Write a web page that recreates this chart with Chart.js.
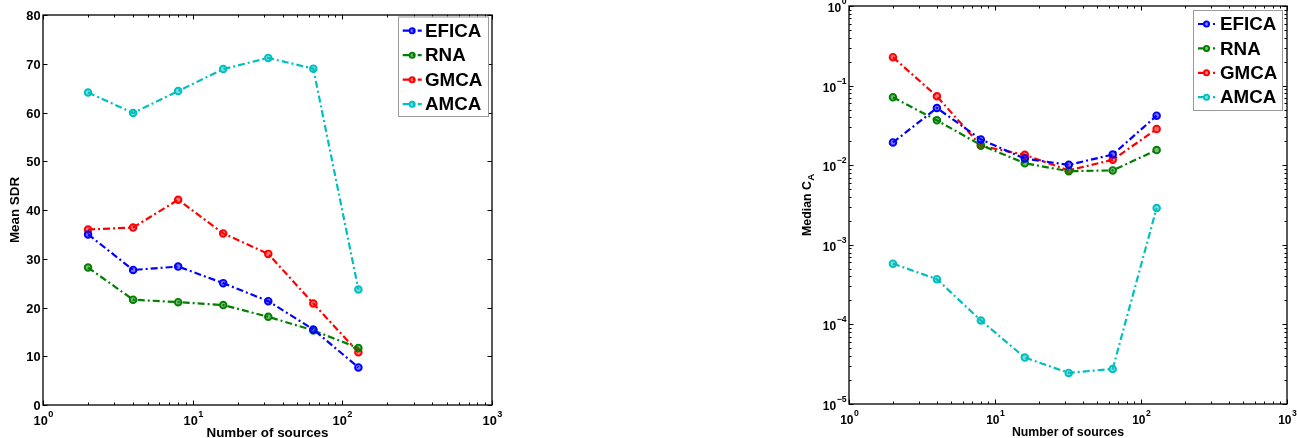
<!DOCTYPE html>
<html>
<head>
<meta charset="utf-8">
<title>Mean SDR / Median C_A vs number of sources</title>
<script src="https://cdn.jsdelivr.net/npm/chart.js@4.4.1/dist/chart.umd.min.js"></script>
<style>
  html, body { margin: 0; padding: 0; background: #fff; }
  body { width: 1297px; height: 438px; position: relative; overflow: hidden; }
  .panel { position: absolute; top: 0; height: 438px; }
  #sdrPanel { left: 0; width: 520px; }
  #caPanel  { left: 760px; width: 537px; }
</style>
</head>
<body>
<div class="panel" id="sdrPanel"><canvas id="sdrChart"></canvas></div>
<div class="panel" id="caPanel"><canvas id="caChart"></canvas></div>

<script>
// ── Data ─────────────────────────────────────────────────────────────────────
const sources = [2, 4, 8, 16, 32, 64, 128];
const methods = ["EFICA", "RNA", "GMCA", "AMCA"];
const colors  = ["#0000ff", "#007f00", "#ff0000", "#00bfbf"];

// left panel: Mean SDR
const sdrEFICA = [35.0, 27.7, 28.4, 25.0, 21.3, 15.5, 7.7];
const sdrRNA   = [28.2, 21.6, 21.1, 20.5, 18.1, 15.3, 11.7];
const sdrGMCA  = [36.0, 36.4, 42.1, 35.2, 31.0, 20.8, 10.8];
const sdrAMCA  = [64.1, 59.9, 64.4, 68.9, 71.2, 69.0, 23.7];

// right panel: Median C_A
const caEFICA = [0.0193, 0.0523, 0.0211, 0.0121, 0.0101, 0.0136, 0.0419];
const caRNA   = [0.0713, 0.0366, 0.0179, 0.0106, 0.0084, 0.0086, 0.0155];
const caGMCA  = [0.2275, 0.0734, 0.0175, 0.0135, 0.0086, 0.0117, 0.0284];
const caAMCA  = [0.00058, 0.00037, 0.000112, 0.0000383, 0.0000246, 0.0000276, 0.0029];

// ticks
const xDecades  = [1, 10, 100, 1000];
const xExps     = ["0", "1", "2", "3"];
const sdrTicks  = [0, 10, 20, 30, 40, 50, 60, 70, 80];
const caDecades = [1e-5, 1e-4, 1e-3, 1e-2, 1e-1, 1];
const caExps    = ["\u22125", "\u22124", "\u22123", "\u22122", "\u22121", "0"];

const FONT = '"Liberation Sans", Arial, Helvetica, sans-serif';
const DASH = [7, 3, 2, 3];

function buildDatasets(seriesList) {
  return seriesList.map((vals, i) => ({
    label: methods[i],
    data: sources.map((s, j) => ({ x: s, y: vals[j] })),
    borderColor: colors[i],
    backgroundColor: colors[i],
    borderWidth: 2.2,
    borderDash: DASH,
    pointRadius: 3.3,
    pointBorderWidth: 1.9,
    pointBackgroundColor: colors[i] + "88",
    pointBorderColor: colors[i],
    tension: 0,
  }));
}

// ── helpers ──────────────────────────────────────────────────────────────────
function drawPower(ctx, exp, x, baseY, align, fs) {
  ctx.font = `bold ${fs}px ${FONT}`;
  const bw = ctx.measureText("10").width;
  const sfs = fs * 0.72;
  ctx.font = `bold ${sfs}px ${FONT}`;
  const ew = ctx.measureText(exp).width;
  const total = bw + ew + 0.5;
  let x0 = align === "right" ? x - total : x - total / 2;
  ctx.textAlign = "left";
  ctx.textBaseline = "alphabetic";
  ctx.font = `bold ${fs}px ${FONT}`;
  ctx.fillText("10", x0, baseY);
  ctx.font = `bold ${sfs}px ${FONT}`;
  ctx.fillText(exp, x0 + bw + 0.5, baseY - fs * 0.6);
}

// Matlab-like axes box, inward ticks, labels and legend
const matlabAxes = {
  id: "matlabAxes",
  afterDatasetsDraw(chart, args, o) {
    const { ctx, chartArea: a, scales } = chart;
    const xs = scales.x, ys = scales.y;
    ctx.save();
    ctx.strokeStyle = "#000";
    ctx.fillStyle = "#000";
    ctx.lineWidth = 1;

    const tick = (x1, y1, x2, y2) => {
      ctx.beginPath(); ctx.moveTo(x1, y1); ctx.lineTo(x2, y2); ctx.stroke();
    };

    // x ticks (log, both top and bottom)
    xDecades.forEach((d, i) => {
      const px = Math.round(xs.getPixelForValue(d)) + 0.5;
      tick(px, a.bottom, px, a.bottom - 4.5);
      tick(px, a.top, px, a.top + 4.5);
      drawPower(ctx, xExps[i], px, a.bottom + 19.5, "center", o.tickFs);
      if (i < xDecades.length - 1) {
        for (let k = 2; k <= 9; k++) {
          const mx = Math.round(xs.getPixelForValue(d * k)) + 0.5;
          tick(mx, a.bottom, mx, a.bottom - 2.5);
          tick(mx, a.top, mx, a.top + 2.5);
        }
      }
    });

    // y ticks
    if (o.yLog) {
      caDecades.forEach((d, i) => {
        const py = Math.round(ys.getPixelForValue(d)) + 0.5;
        tick(a.left, py, a.left + 4.5, py);
        tick(a.right, py, a.right - 4.5, py);
        drawPower(ctx, caExps[i], a.left - 2.5, py + 5, "right", o.tickFs);
        if (i < caDecades.length - 1) {
          for (let k = 2; k <= 9; k++) {
            const my = Math.round(ys.getPixelForValue(d * k)) + 0.5;
            tick(a.left, my, a.left + 2.5, my);
            tick(a.right, my, a.right - 2.5, my);
          }
        }
      });
    } else {
      ctx.font = `bold ${o.tickFs}px ${FONT}`;
      ctx.textAlign = "right";
      ctx.textBaseline = "middle";
      sdrTicks.forEach(v => {
        const py = Math.round(ys.getPixelForValue(v)) + 0.5;
        tick(a.left, py, a.left + 4.5, py);
        tick(a.right, py, a.right - 4.5, py);
        ctx.fillText(String(v), a.left - 2.5, py + 0.5);
      });
    }

    // box
    ctx.lineWidth = 1.3;
    ctx.strokeRect(a.left, a.top, a.right - a.left, a.bottom - a.top);

    // x title
    ctx.font = `bold ${o.titleFs}px ${FONT}`;
    ctx.textAlign = "center";
    ctx.textBaseline = "alphabetic";
    ctx.fillText("Number of sources", (a.left + a.right) / 2, a.bottom + 31.5);

    // y title (rotated)
    ctx.save();
    ctx.translate(o.yTitleX, (a.top + a.bottom) / 2);
    ctx.rotate(-Math.PI / 2);
    ctx.textBaseline = "middle";
    ctx.font = `bold ${o.titleFs}px ${FONT}`;
    const mw = ctx.measureText(o.yTitle).width;
    let sw = 0;
    if (o.ySub) {
      ctx.font = `bold ${o.titleFs * 0.8}px ${FONT}`;
      sw = ctx.measureText(o.ySub).width;
    }
    const start = -(mw + sw) / 2;
    ctx.textAlign = "left";
    ctx.font = `bold ${o.titleFs}px ${FONT}`;
    ctx.fillText(o.yTitle, start, 0);
    if (o.ySub) {
      ctx.font = `bold ${o.titleFs * 0.8}px ${FONT}`;
      ctx.fillText(o.ySub, start + mw + 0.5, 3.5);
    }
    ctx.restore();

    // legend box
    const L = o.legend;
    ctx.fillStyle = "#fff";
    ctx.fillRect(L.x, L.y, L.w, L.h);
    ctx.strokeStyle = "#9a9a9a";
    ctx.lineWidth = 1;
    ctx.strokeRect(L.x + 0.5, L.y + 0.5, L.w, L.h);
    chart.data.datasets.forEach((ds, i) => {
      const cy = L.y + L.first + i * L.step;
      ctx.strokeStyle = ds.borderColor;
      ctx.lineWidth = 2.2;
      ctx.setLineDash(DASH);
      ctx.beginPath();
      ctx.moveTo(L.x + L.lineFrom, cy);
      ctx.lineTo(L.x + L.lineTo, cy);
      ctx.stroke();
      ctx.setLineDash([]);
      ctx.fillStyle = ds.pointBackgroundColor;
      ctx.lineWidth = 1.8;
      ctx.beginPath();
      ctx.arc(L.x + (L.lineFrom + L.lineTo) / 2, cy, 2.6, 0, Math.PI * 2);
      ctx.fill();
      ctx.stroke();
      ctx.fillStyle = "#000";
      ctx.font = `bold ${L.fs}px ${FONT}`;
      ctx.textAlign = "left";
      ctx.textBaseline = "middle";
      ctx.fillText(ds.label, L.x + L.textX, cy + 1);
    });

    ctx.restore();
  },
};

function makeChart(id, datasets, yScale, padding, axesOpts) {
  return new Chart(document.getElementById(id).getContext("2d"), {
    type: "line",
    data: { datasets },
    options: {
      responsive: true,
      maintainAspectRatio: false,
      animation: false,
      layout: { padding },
      scales: {
        x: { type: "logarithmic", min: 1, max: 1000, display: false },
        y: Object.assign({ display: false }, yScale),
      },
      plugins: {
        legend: { display: false },
        tooltip: { enabled: false },
        matlabAxes: axesOpts,
      },
    },
    plugins: [matlabAxes],
  });
}

// ── Left: Mean SDR ───────────────────────────────────────────────────────────
makeChart(
  "sdrChart",
  buildDatasets([sdrEFICA, sdrRNA, sdrGMCA, sdrAMCA]),
  { type: "linear", min: 0, max: 80 },
  { left: 43, right: 28, top: 15, bottom: 33 },
  {
    yLog: false, tickFs: 12.8, titleFs: 13.4,
    yTitle: "Mean SDR", ySub: "", yTitleX: 15.5,
    legend: { x: 398, y: 16.5, w: 90, h: 99.5, first: 14.2, step: 24.5,
              lineFrom: 4.7, lineTo: 23.7, textX: 27, fs: 18.8 },
  }
);

// ── Right: Median C_A ────────────────────────────────────────────────────────
makeChart(
  "caChart",
  buildDatasets([caEFICA, caRNA, caGMCA, caAMCA]),
  { type: "logarithmic", min: 1e-5, max: 1 },
  { left: 89, right: 10, top: 6, bottom: 34 },
  {
    yLog: true, tickFs: 12, titleFs: 12.3,
    yTitle: "Median C", ySub: "A", yTitleX: 47.5,
    legend: { x: 433, y: 10, w: 89, h: 100, first: 14, step: 24.4,
              lineFrom: 5, lineTo: 22, textX: 27, fs: 18.8 },
  }
);
</script>
</body>
</html>
